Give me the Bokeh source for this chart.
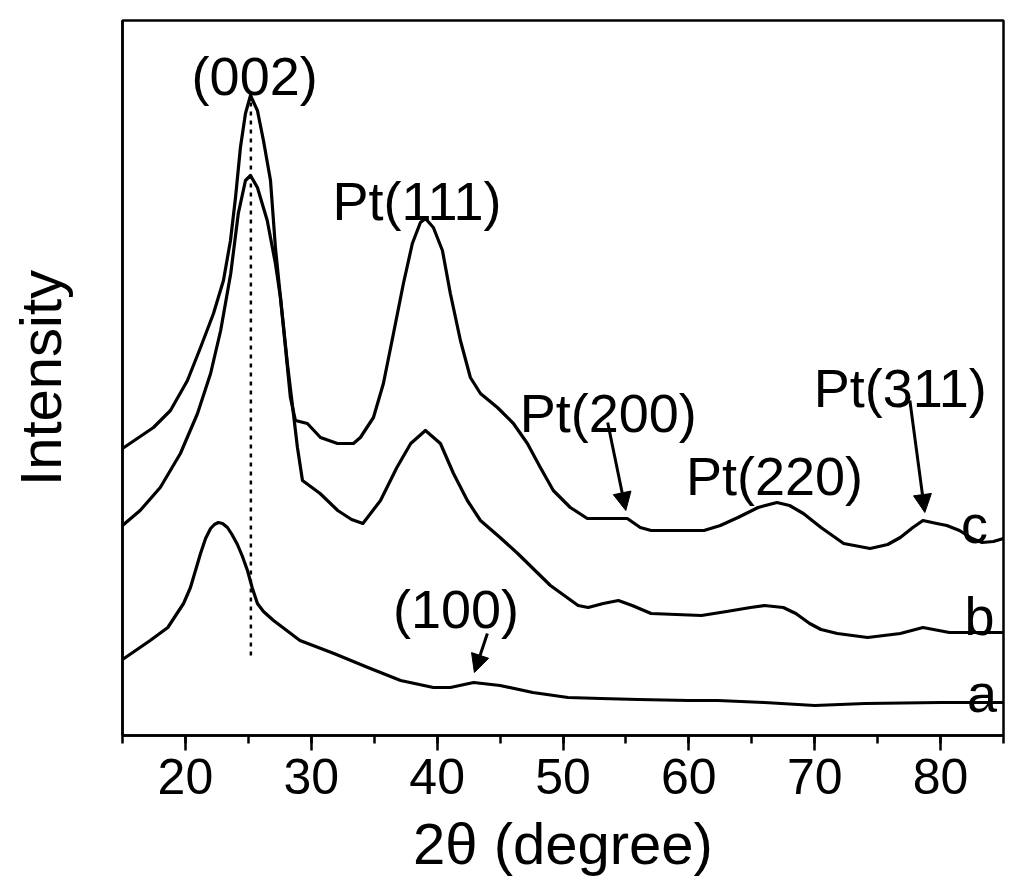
from bokeh.plotting import figure
from bokeh.models import Range1d, SingleIntervalTicker, Arrow, NormalHead, ColumnDataSource
from bokeh.core.properties import value
from bokeh.embed import file_html
from bokeh.resources import INLINE

FONT = "Liberation Sans"

# curve a (bottom)
a_x = [15.0, 17.2, 18.6, 19.85, 20.4, 21.2, 21.6, 22.0, 22.3, 22.62, 22.95, 23.34, 23.7, 24.13, 24.5,
       24.93, 25.3, 25.72, 26.2, 27.0, 29.1, 31.8, 34.5, 37.1, 39.7, 41.05, 42.9, 45.0, 47.6, 50.4,
       53.0, 56.0, 60.0, 62.3, 66.0, 70.0, 74.0, 80.0, 85.0]
a_y = [76, 95, 108, 132, 148, 182, 197, 207, 211, 213, 212, 208, 201, 191, 180,
       165, 148, 132, 124, 115, 95, 82, 68, 55, 48, 48, 53, 50, 43, 38,
       37, 36, 35, 35, 33, 30, 32, 33, 33]

# curve b (middle)
b_x = [15.0, 16.4, 18.0, 19.6, 20.96, 22.0, 22.8, 23.6, 24.2, 24.77, 25.17, 25.72, 26.5, 27.15, 27.55,
       28.1, 28.58, 28.9, 29.3, 30.7, 32.1, 33.2, 34.1, 35.5, 36.8, 37.9, 39.07, 40.26, 41.3, 42.4,
       43.44, 45.0, 46.4, 49.0, 51.2, 52.0, 53.2, 54.4, 55.5, 57.0, 61.0, 63.0, 64.9, 66.0, 67.5,
       68.5, 69.6, 70.5, 71.8, 74.2, 76.8, 78.6, 80.7, 85.0]
b_y = [210, 225, 248, 282, 322, 362, 405, 462, 522, 555, 560, 548, 515, 472, 438,
       372, 322, 288, 255, 242, 225, 216, 212, 235, 268, 292, 305, 292, 262, 235,
       215, 198, 182, 150, 130, 128, 132, 135, 130, 122, 120, 124, 128, 130, 128,
       122, 112, 106, 102, 98, 102, 108, 103, 103]

# curve c (top)
c_x = [15.0, 17.46, 18.81, 20.16, 21.2, 22.23, 23.02, 23.58, 23.98, 24.37, 24.77, 25.17, 25.72, 26.2, 26.76,
       27.15, 27.55, 27.95, 28.34, 28.74, 29.69, 30.73, 32.08, 33.35, 33.9, 34.94, 35.73, 36.53, 37.32, 38.03,
       38.67, 39.07, 39.7, 40.42, 41.05, 41.85, 42.64, 43.44, 44.79, 46.06, 47.17, 48.2, 49.23, 50.58, 51.93,
       53.52, 55.11, 56.14, 57.0, 61.2, 62.5, 63.9, 65.5, 67.0, 68.0, 69.1, 70.5, 72.3, 74.4, 75.8,
       76.8, 77.8, 78.6, 79.7, 80.5, 81.5, 82.5, 83.3, 84.2, 85.0]
c_y = [287, 308, 325, 355, 388, 422, 455, 495, 538, 588, 622, 640, 625, 595, 555,
       488, 438, 388, 338, 315, 312, 298, 292, 292, 298, 318, 352, 402, 452, 492,
       513, 517, 508, 485, 442, 395, 358, 342, 328, 312, 292, 268, 245, 228, 217,
       217, 217, 208, 205, 205, 210, 218, 228, 233, 230, 222, 208, 192, 187, 191,
       198, 208, 215, 212, 210, 205, 197, 193, 194, 197]

# tick labels
x_ticks = [20, 30, 40, 50, 60, 70, 80]

# peak annotations (text, x, baseline y)
ann_text = ["(002)", "Pt(111)", "Pt(200)", "Pt(220)", "Pt(311)", "(100)", "c", "b", "a"]
ann_x = [25.5, 38.4, 53.6, 66.8, 76.8, 41.5, 82.7, 83.1, 83.3]
ann_y = [660, 535, 323, 260, 348, 127, 212, 120, 43]

# arrows (x_start, y_start, x_end, y_end)
arr_x0 = [53.55, 77.56, 43.99]
arr_y0 = [313, 335, 102]
arr_x1 = [54.99, 78.75, 42.96]
arr_y1 = [225, 223, 63]

# dotted reference line for (002)
ref_x = [25.2, 25.2]
ref_y = [80, 640]

p = figure(width=1016, height=881, output_backend="svg", toolbar_location=None,
           x_range=Range1d(15, 85), y_range=Range1d(0, 715),
           min_border_left=122, min_border_right=13, min_border_top=20, min_border_bottom=146)

p.grid.visible = False
p.background_fill_color = "white"
p.border_fill_color = "white"
p.outline_line_color = "black"
p.outline_line_width = 2.5

# x axis
xa = p.xaxis[0]
xa.ticker = SingleIntervalTicker(interval=10, num_minor_ticks=2)
xa.axis_line_width = 2.5
xa.axis_line_color = "black"
xa.major_tick_line_width = 2.5
xa.minor_tick_line_width = 2.5
xa.major_tick_out = 15
xa.major_tick_in = 0
xa.minor_tick_out = 8
xa.minor_tick_in = 0
xa.major_label_text_font = FONT
xa.major_label_text_font_size = "50px"
xa.major_label_text_color = "black"
xa.major_label_standoff = 8
xa.axis_label = "2θ (degree)"
xa.axis_label_text_font = FONT
xa.axis_label_text_font_size = "58px"
xa.axis_label_text_font_style = "normal"
xa.axis_label_text_color = "black"
xa.axis_label_standoff = 14

# y axis
ya = p.yaxis[0]
ya.ticker = []
ya.axis_line_width = 2.5
ya.axis_line_color = "black"
ya.major_tick_line_color = None
ya.minor_tick_line_color = None
ya.major_label_text_font_size = "0px"
ya.axis_label = "Intensity"
ya.axis_label_text_font = FONT
ya.axis_label_text_font_size = "58px"
ya.axis_label_text_font_style = "normal"
ya.axis_label_text_color = "black"
ya.axis_label_standoff = 50

p.line(ref_x, ref_y, line_color="black", line_width=2.5, line_dash="4 5")

for xs, ys in ((a_x, a_y), (b_x, b_y), (c_x, c_y)):
    p.line(xs, ys, line_color="black", line_width=3.2, line_join="round")

src = ColumnDataSource(dict(x=ann_x, y=ann_y, t=ann_text))
p.text(x="x", y="y", text="t", source=src, text_font=value(FONT), text_font_size="54px",
       text_align="center", text_baseline="alphabetic", text_color="black")

for x0, y0, x1, y1 in zip(arr_x0, arr_y0, arr_x1, arr_y1):
    p.add_layout(Arrow(x_start=x0, y_start=y0, x_end=x1, y_end=y1,
                       line_color="black", line_width=3,
                       end=NormalHead(size=18, fill_color="black", line_color="black")))

open("out.html", "w").write(file_html(p, INLINE))
